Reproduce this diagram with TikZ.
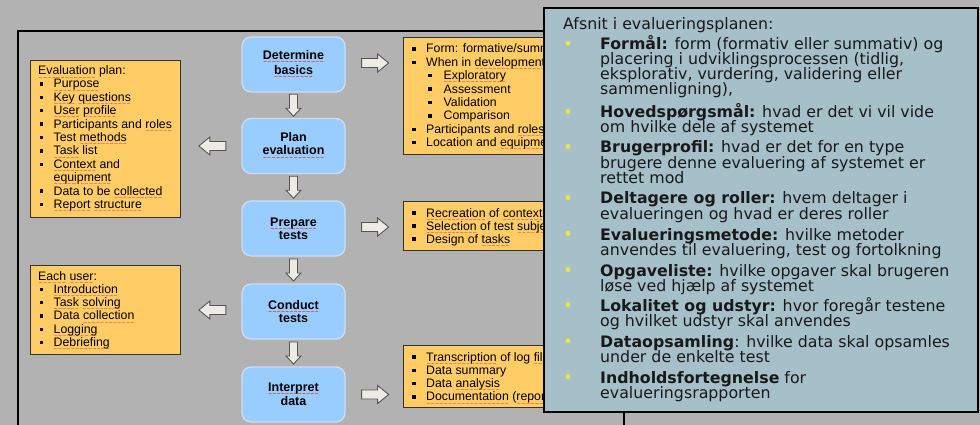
\documentclass[tikz,border=0pt]{standalone}
\usepackage{fontspec}
\setmainfont{Liberation Sans}
\newfontfamily\verd{DejaVu Sans}
\usetikzlibrary{calc}
\definecolor{bggray}{RGB}{178,178,178}
\definecolor{boxblue}{RGB}{153,204,255}
\definecolor{flowedge}{RGB}{205,222,240}
\definecolor{boxorange}{RGB}{255,204,102}
\definecolor{oedge}{RGB}{50,50,50}
\definecolor{panelfill}{RGB}{166,192,202}
\definecolor{ptext}{RGB}{25,25,25}
\definecolor{dotyellow}{RGB}{240,228,60}
\definecolor{arrowfill}{RGB}{236,236,228}
\definecolor{arrowedge}{RGB}{85,85,85}
\definecolor{sqred}{RGB}{235,30,30}
\newsavebox\sqbox
\newcommand\sq[1]{\sbox\sqbox{#1}\rlap{\raisebox{-4.2pt}{\textcolor{sqred}{\hbox to\wd\sqbox{\xleaders\hbox{\verd\fontsize{5}{5}\selectfont\char"223C}\hfil}}}}\usebox\sqbox}
\newcommand\bul{\makebox[14pt][l]{\rule[2.4pt]{3.3pt}{3.3pt}}}
\newcommand\subbul{\makebox[15.5pt][l]{\rule[2.4pt]{3.3pt}{3.3pt}}}
\newcommand\nobul{\hspace*{14pt}}
\begin{document}
\begin{tikzpicture}[x=1pt,y=-1pt,
  flow/.style={draw=flowedge, line width=1.3pt, fill=boxblue, rounded corners=9pt,
    minimum width=103pt, minimum height=55pt, inner sep=0pt, align=center,
    font=\bfseries\fontsize{12.5}{13}\selectfont},
  obox/.style={draw=oedge, line width=0.9pt, fill=boxorange, anchor=north west, inner sep=0pt},
  ltxt/.style={anchor=base west, inner sep=0pt, font=\fontsize{12.3}{13.4}\selectfont},
  blk/.style={draw=arrowedge, fill=arrowfill, line width=0.9pt, line join=miter},
  pics/bigarrow/.style={code={\draw[blk] (-13.5,-4.5) -- (2.5,-4.5) -- (2.5,-9) -- (13.5,0)
      -- (2.5,9) -- (2.5,4.5) -- (-13.5,4.5) -- cycle;}},
  pics/smallarrow/.style={code={\draw[blk] (-11,-4) -- (3,-4) -- (3,-7.5) -- (11,0)
      -- (3,7.5) -- (3,4) -- (-11,4) -- cycle;}},
  ptxt/.style={anchor=base west, inner sep=0pt, text=ptext,
    font=\verd\fontsize{15.8}{15}\selectfont},
  pdot/.style={circle, fill=dotyellow, inner sep=0pt, minimum size=5pt}
]
\fill[bggray] (0,0) rectangle (980,425);
\useasboundingbox (0,0) rectangle (980,425);
\begin{scope}
\clip (0,0) rectangle (980,425);
\draw[line width=1.8pt] (18,440) -- (18,31) -- (624,31) -- (624,440);
\end{scope}

% flow boxes
\node[flow] (b1) at (293.5,64.5) {\sq{Determine}\\\sq{basics}};
\node[flow] (b2) at (293.5,146) {Plan\\\sq{evaluation}};
\node[flow] (b3) at (293.5,228.5) {\sq{Prepare}\\tests};
\node[flow] (b4) at (293.5,311.5) {\sq{Conduct}\\tests};
\node[flow] (b5) at (293.5,394.5) {\sq{Interpret}\\data};

% down arrows
\pic[rotate=-90] (d12) at ($(b1.south)!0.5!(b2.north)$) {smallarrow};
\pic[rotate=-90] (d23) at ($(b2.south)!0.5!(b3.north)$) {smallarrow};
\pic[rotate=-90] (d34) at ($(b3.south)!0.5!(b4.north)$) {smallarrow};
\pic[rotate=-90] (d45) at ($(b4.south)!0.5!(b5.north)$) {smallarrow};

% side arrows
\pic (r1) at ([xshift=29.5pt,yshift=1.5pt]b1.east) {bigarrow};
\pic (r3) at ([xshift=29.5pt,yshift=1.5pt]b3.east) {bigarrow};
\pic (r5) at ([xshift=29.5pt]b5.east) {bigarrow};
\pic[rotate=180] (l2) at ([xshift=-29pt]b2.west) {bigarrow};
\pic[rotate=180] (l4) at ([xshift=-29pt,yshift=1.5pt]b4.west) {bigarrow};

% left orange boxes
\node[obox, minimum width=150pt, minimum height=157pt] (L1) at (30,60) {};
\node[ltxt] (L1h) at (38,75) {\sq{Evaluation} plan:};
\foreach \ln [count=\i from 0] in {{\bul\sq{Purpose}}, {\bul\sq{Key} \sq{questions}},
  {\bul\sq{User} \sq{profile}}, {\bul Participants and \sq{roles}}, {\bul Test \sq{methods}},
  {\bul\sq{Task} list}, {\bul\sq{Context} and}, {\nobul\sq{equipment}},
  {\bul Data to be \sq{collected}}, {\bul\sq{Report} \sq{structure}}}
  \node[ltxt] (L1t\i) at (39.5,{88+13.4*\i}) {\ln};

\node[obox, minimum width=150pt, minimum height=89pt] (L2) at (30,265) {};
\node[ltxt] (L2h) at (38,280) {\sq{Each} \sq{user}:};
\foreach \ln [count=\i from 0] in {{\bul\sq{Introduction}}, {\bul\sq{Task} \sq{solving}},
  {\bul Data \sq{collection}}, {\bul\sq{Logging}}, {\bul\sq{Debriefing}}}
  \node[ltxt] (L2t\i) at (39.5,{293.3+13.3*\i}) {\ln};

% right orange boxes
\node[obox, minimum width=220pt, minimum height=117pt] (R1) at (403,37) {};
\node[ltxt] (R1t0) at (412,53) {\bul Form: formative/summative};
\node[ltxt] (R1t1) at (412,66.4) {\bul When in \sq{development}:};
\node[ltxt] (R1t2) at (428,79.8) {\subbul\sq{Exploratory}};
\node[ltxt] (R1t3) at (428,93.2) {\subbul Assessment};
\node[ltxt] (R1t4) at (428,106.6) {\subbul Validation};
\node[ltxt] (R1t5) at (428,120) {\subbul Comparison};
\node[ltxt] (R1t6) at (412,133.4) {\bul Participants and \sq{roles}};
\node[ltxt] (R1t7) at (412,146.8) {\bul Location and \sq{equipment}};

\node[obox, minimum width=220pt, minimum height=49pt] (R2) at (403,201) {};
\foreach \ln [count=\i from 0] in {{\bul\sq{Recreation} of \sq{context}},
  {\bul\sq{Selection} of test \sq{subjects}}, {\bul Design of \sq{tasks}}}
  \node[ltxt] (R2t\i) at (412,{217+13*\i}) {\ln};

\node[obox, minimum width=220pt, minimum height=62pt] (R3) at (403,345) {};
\foreach \ln [count=\i from 0] in {{\bul\sq{Transcription} of log \sq{files}},
  {\bul Data summary}, {\bul Data \sq{analysis}}, {\bul\sq{Documentation} (\sq{report})}}
  \node[ltxt] (R3t\i) at (412,{361+13.3*\i}) {\ln};

% overlay panel
\node[draw=black, line width=2pt, fill=panelfill, anchor=north west, inner sep=0pt,
  minimum width=434pt, minimum height=404pt] (panel) at (543,7) {};
\node[ptxt] (ptitle) at (563,30) {Afsnit i evalueringsplanen:};

\foreach \ln [count=\i from 0] in {{\textbf{Formål:} form (formativ eller summativ) og},
  {placering i udviklingsprocessen (tidlig,}, {eksplorativ, vurdering, validering eller},
  {sammenligning),}}
  \node[ptxt] (p1l\i) at (600,{50+15*\i}) {\ln};
\foreach \ln [count=\i from 0] in {{\textbf{Hovedspørgsmål:} hvad er det vi vil vide},
  {om hvilke dele af systemet}}
  \node[ptxt] (p2l\i) at (600,{118+15*\i}) {\ln};
\foreach \ln [count=\i from 0] in {{\textbf{Brugerprofil:} hvad er det for en type},
  {brugere denne evaluering af systemet er}, {rettet mod}}
  \node[ptxt] (p3l\i) at (600,{153+15*\i}) {\ln};
\foreach \ln [count=\i from 0] in {{\textbf{Deltagere og roller:} hvem deltager i},
  {evalueringen og hvad er deres roller}}
  \node[ptxt] (p4l\i) at (600,{204+15*\i}) {\ln};
\foreach \ln [count=\i from 0] in {{\textbf{Evalueringsmetode:} hvilke metoder},
  {anvendes til evaluering, test og fortolkning}}
  \node[ptxt] (p5l\i) at (600,{240+15*\i}) {\ln};
\foreach \ln [count=\i from 0] in {{\textbf{Opgaveliste:} hvilke opgaver skal brugeren},
  {løse ved hjælp af systemet}}
  \node[ptxt] (p6l\i) at (600,{276+15*\i}) {\ln};
\foreach \ln [count=\i from 0] in {{\textbf{Lokalitet og udstyr:} hvor foregår testene},
  {og hvilket udstyr skal anvendes}}
  \node[ptxt] (p7l\i) at (600,{311+15*\i}) {\ln};
\foreach \ln [count=\i from 0] in {{\textbf{Dataopsamling}: hvilke data skal opsamles},
  {under de enkelte test}}
  \node[ptxt] (p8l\i) at (600,{347+15*\i}) {\ln};
\foreach \ln [count=\i from 0] in {{\textbf{Indholdsfortegnelse} for},
  {evalueringsrapporten}}
  \node[ptxt] (p9l\i) at (600,{383+15*\i}) {\ln};

\foreach \yy [count=\i] in {50,118,153,204,240,276,311,347,383}
  \node[pdot] (dot\i) at (568,{\yy-6.5}) {};
\end{tikzpicture}
\end{document}
